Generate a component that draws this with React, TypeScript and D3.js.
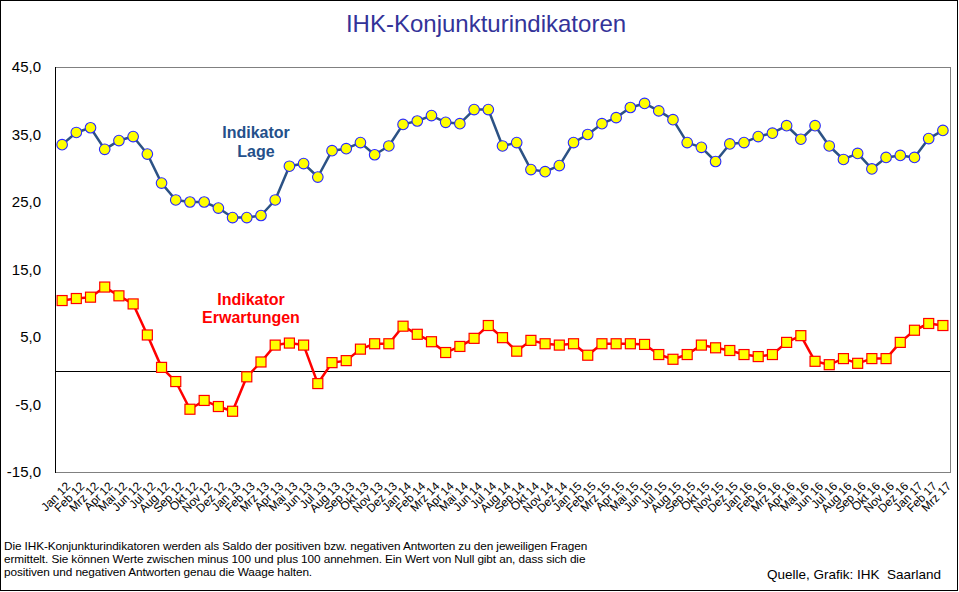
import React from "react";
import * as d3 from "d3";

const monthNames = ["Jan", "Feb", "Mrz", "Apr", "Mai", "Jun", "Jul", "Aug", "Sep", "Okt", "Nov", "Dez"];
const years = ["12", "13", "14", "15", "16", "17"];
const categories: string[] = years.flatMap((y) => monthNames.map((m) => `${m} ${y}`)).slice(0, 63);

const lage = [
  33.5, 35.3, 36.0, 32.8, 34.1, 34.7, 32.1, 27.8, 25.3, 25.0,
  25.0, 24.1, 22.7, 22.7, 23.0, 25.3, 30.3, 30.7, 28.7, 32.6,
  32.9, 33.8, 32.0, 33.3, 36.5, 37.0, 37.8, 36.8, 36.6, 38.7,
  38.7, 33.3, 33.8, 29.8, 29.5, 30.4, 33.8, 35.0, 36.6, 37.5,
  39.0, 39.6, 38.5, 37.2, 33.8, 33.1, 31.0, 33.6, 33.8, 34.7,
  35.2, 36.3, 34.3, 36.3, 33.3, 31.3, 32.2, 29.9, 31.6, 31.9,
  31.6, 34.4, 35.6,
];

const erwartungen = [
  10.4, 10.7, 10.9, 12.4, 11.1, 9.9, 5.3, 0.5, -1.6, -5.7,
  -4.4, -5.3, -6.0, -0.9, 1.3, 3.8, 4.1, 3.8, -1.9, 1.2,
  1.5, 3.2, 4.0, 4.0, 6.6, 5.4, 4.3, 2.7, 3.6, 4.8,
  6.7, 4.9, 2.9, 4.5, 4.0, 3.8, 4.0, 2.3, 4.0, 4.0,
  4.0, 3.9, 2.4, 1.7, 2.4, 3.8, 3.4, 3.0, 2.4, 2.1,
  2.4, 4.2, 5.2, 1.4, 0.9, 1.8, 1.1, 1.8, 1.8, 4.2,
  6.0, 7.0, 6.7,
];

const yTicks = [-15, -5, 5, 15, 25, 35, 45];

const title = "IHK-Konjunkturindikatoren";
const footerLines = [
  "Die IHK-Konjunkturindikatoren werden als Saldo der positiven bzw. negativen Antworten zu den jeweiligen Fragen",
  "ermittelt. Sie können Werte zwischen minus 100 und plus 100 annehmen. Ein Wert von Null gibt an, dass sich die",
  "positiven und negativen Antworten genau die Waage halten.",
];
const source = "Quelle, Grafik: IHK  Saarland";

const W = 959;
const H = 592;
const FONT = "Arial, 'Liberation Sans', sans-serif";

export default function App() {
  const left = 55, right = 950, top = 67, bottom = 472;
  const x = d3.scaleBand<string>().domain(categories).range([left, right]).padding(0);
  const y = d3.scaleLinear().domain([-15, 45]).range([bottom, top]);
  const cx = (i: number) => (x(categories[i]) as number) + x.bandwidth() / 2;

  const line = d3
    .line<number>()
    .x((_, i) => cx(i))
    .y((d) => y(d));

  const fmt = (v: number) => d3.format(".1f")(v).replace(".", ",").replace("−", "-");

  return (
    <div style={{ position: "absolute", left: 0, top: 0 }}>
      <svg width={W} height={H} style={{ display: "block", fontFamily: FONT }}>
        <rect x={0} y={0} width={W} height={H} fill="#fff" />
        <rect x={0.5} y={0.5} width={W - 2} height={H - 2} fill="none" stroke="#000" strokeWidth={1} />

        <text x={486} y={32} textAnchor="middle" fontSize={24} fill="#333399">
          {title}
        </text>

        {/* plot area */}
        <rect x={left + 0.5} y={top + 0.5} width={right - left} height={bottom - top} fill="#fff" stroke="#808080" strokeWidth={1} />
        <line x1={left + 0.5} x2={left + 0.5} y1={top} y2={bottom + 1} stroke="#000" strokeWidth={1} />

        {yTicks.map((t) => (
          <text key={t} x={41} y={y(t)} dy="0.36em" textAnchor="end" fontSize={15} fill="#000">
            {fmt(t)}
          </text>
        ))}

        {/* zero line */}
        <line x1={left} x2={right} y1={Math.round(y(0)) + 0.5} y2={Math.round(y(0)) + 0.5} stroke="#000" strokeWidth={1} />

        {categories.map((c, i) => (
          <text
            key={c}
            transform={`translate(${cx(i) + 6},${bottom + 12}) rotate(-45)`}
            textAnchor="end"
            dy="0.35em"
            fontSize={11.8}
            fill="#000"
          >
            {c}
          </text>
        ))}

        {/* Lage */}
        <path d={line(lage) || ""} fill="none" stroke="#2c5285" strokeWidth={2.5} strokeLinejoin="round" />
        {lage.map((v, i) => (
          <circle key={i} cx={cx(i)} cy={y(v)} r={5.3} fill="#ffff00" stroke="#2a2aff" strokeWidth={1.1} />
        ))}

        {/* Erwartungen */}
        <path d={line(erwartungen) || ""} fill="none" stroke="#ff0000" strokeWidth={2.5} strokeLinejoin="round" />
        {erwartungen.map((v, i) => (
          <rect key={i} x={cx(i) - 5} y={y(v) - 5} width={10} height={10} fill="#ffff00" stroke="#ff0000" strokeWidth={1.2} />
        ))}

        <text textAnchor="middle" fontSize={16} fontWeight="bold" fill="#24508a">
          <tspan x={256} y={138}>Indikator</tspan>
          <tspan x={256} y={157}>Lage</tspan>
        </text>
        <text textAnchor="middle" fontSize={16} fontWeight="bold" fill="#ff0000">
          <tspan x={251} y={305}>Indikator</tspan>
          <tspan x={251} y={323}>Erwartungen</tspan>
        </text>

        {footerLines.map((l, i) => (
          <text key={i} x={4} y={549.5 + i * 13.3} fontSize={11.8} letterSpacing={-0.1} fill="#000">
            {l}
          </text>
        ))}

        <text x={941} y={579} textAnchor="end" fontSize={13.5} fill="#000" style={{ whiteSpace: "pre" }}>
          {source}
        </text>
      </svg>
    </div>
  );
}
